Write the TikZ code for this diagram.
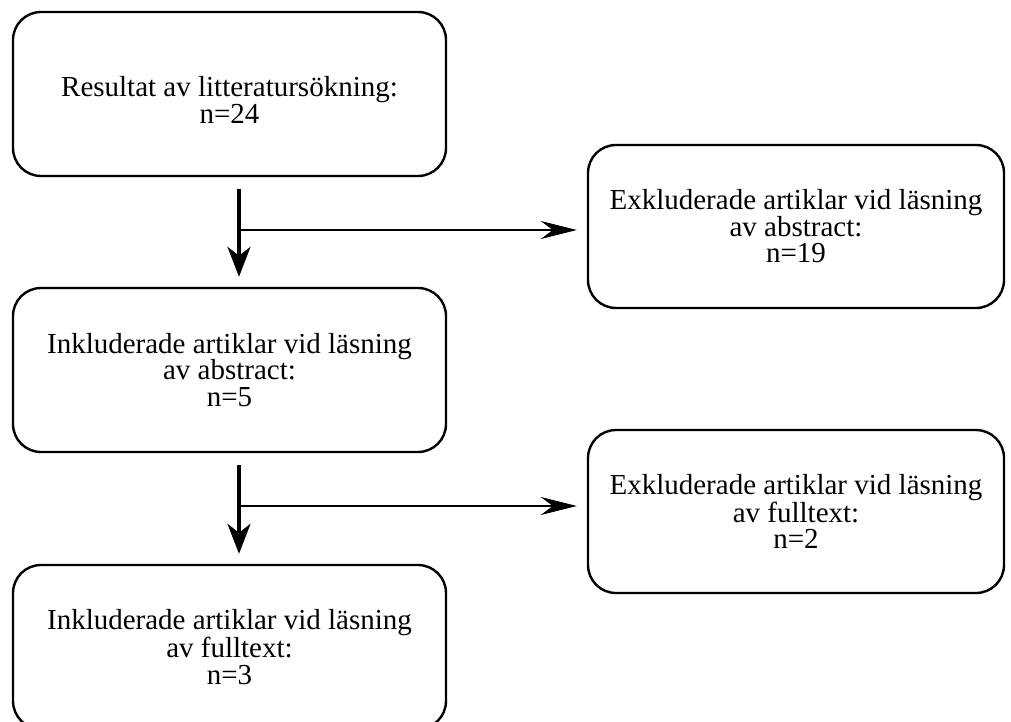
\documentclass[tikz,border=0pt]{standalone}
\usepackage{fontspec}
\setmainfont{Liberation Serif}
\usetikzlibrary{arrows.meta}
\begin{document}
\begin{tikzpicture}[x=1pt,y=-1pt,
  box/.style={draw=black, line width=2.4pt, rounded corners=28pt, align=center,
    font=\fontsize{29}{26.5}\selectfont, inner sep=0pt},
  leftbox/.style={box, minimum width=433pt, minimum height=164pt},
  rightbox/.style={box, minimum width=416pt, minimum height=163pt},
  varr/.style={line width=3.3pt, -{Stealth[length=30pt,width=23pt,inset=9pt]}},
  harr/.style={line width=2.7pt, -{Stealth[length=36pt,width=18pt,inset=12pt]}}]
\useasboundingbox (0,0) rectangle (1011,722);
\clip (0,0) rectangle (1011,722);
\node[leftbox] (b1) at (229.5,94) {\rule{0pt}{32pt}Resultat av litteratursökning:\\n=24};
\node[rightbox] (b2) at (796,226.5) {Exkluderade artiklar vid läsning\\av abstract:\\n=19};
\node[leftbox] (b3) at (229.5,370) {Inkluderade artiklar vid läsning\\av abstract:\\n=5};
\node[rightbox] (b4) at (796,511.5) {Exkluderade artiklar vid läsning\\av fulltext:\\n=2};
\node[leftbox] (b5) at (229.5,647) {Inkluderade artiklar vid läsning\\av fulltext:\\n=3};
\coordinate (j1) at (239,230);
\coordinate (j2) at (239,506);
\draw[varr, shorten <=12pt, shorten >=10pt] ([xshift=9.5pt]b1.south) -- ([xshift=9.5pt]b3.north);
\draw[harr, shorten >=10pt] ([xshift=-1.6pt]j1) -- (b2.west |- j1);
\draw[varr, shorten <=12pt, shorten >=10pt] ([xshift=9.5pt]b3.south) -- ([xshift=9.5pt]b5.north);
\draw[harr, shorten >=10pt] ([xshift=-1.6pt]j2) -- (b4.west |- j2);
\end{tikzpicture}
\end{document}
